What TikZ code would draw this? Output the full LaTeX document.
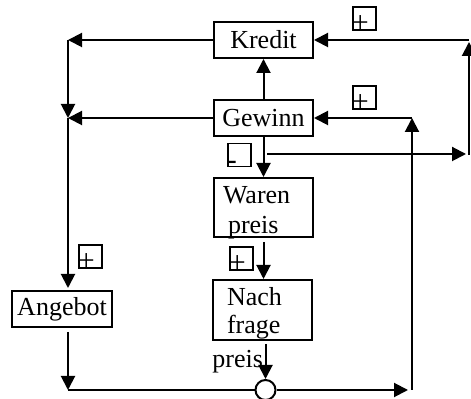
\documentclass[tikz,border=0pt]{standalone}
\usepackage{fontspec}
\setmainfont{Liberation Serif}
\usetikzlibrary{arrows.meta}
\begin{document}
\begin{tikzpicture}[x=0.5pt,y=-0.5pt,
    box/.style={draw,line width=1pt,inner sep=0pt,minimum width=49.5pt,minimum height=18pt,font=\fontsize{13}{15}\selectfont},
    tall/.style={box,align=left,inner ysep=0pt,text height=13pt},
    arr/.style={line width=1pt,-{Triangle[length=7pt,width=7pt]}},
    sgn/.style={draw,line width=0.6pt,minimum size=11.5pt,inner sep=0pt},
    sgntxt/.style={anchor=base west,inner sep=0pt,xshift=-0.5pt,yshift=-1.1pt,font=\fontsize{15}{15}\selectfont}]
    \useasboundingbox (0,0) rectangle (471,399);
    %% Boxes
    \node[box] (Kredit) at (263.5,40) {Kredit};
    \node[box] (Gewinn) at (263.5,118) {Gewinn};
    \node[tall,inner xsep=4.5pt,text width=40.5pt,text depth=16.5pt] (Waren) at (263.5,177) [anchor=north] {Waren\\\hspace{2.5pt}preis};
    \node[tall,inner xsep=7pt,text width=35.5pt,text depth=17pt,font=\fontsize{13}{14}\selectfont] (Nach) at (262.5,279) [anchor=north] {Nach\\frage};
    \node[anchor=base west,inner sep=0pt,font=\fontsize{13}{15}\selectfont] (preis) at (212,368) {preis};
    \node[box,minimum width=50pt] (Angebot) at (62,309) {Angebot};
    \node[draw,circle,line width=1pt,minimum size=10pt,inner sep=0pt] (circ) at (265.5,390) {};
    %% Corners
    \coordinate (kl) at (68,40);
    \coordinate (gl) at (68,118);
    \coordinate (bl) at (68,390);
    \coordinate (br) at (408,390);
    \coordinate (rb) at (412,390);
    \coordinate (rt) at (412,118);
    \coordinate (gb) at (267,154);
    \coordinate (re) at (466,154);
    \coordinate (rd) at (469,155);
    \coordinate (ru) at (469,42);
    \coordinate (kr) at (469,40);
    %% Arrows
    \draw[arr] (Kredit.west) -- (kl);
    \draw[arr] (kl) -- (gl);
    \draw[arr] (Gewinn.west) -- (gl);
    \draw[arr] (gl) -- (68,288);
    \draw[arr] (Angebot.south -| gl) ++(0,4) -- (bl);
    \draw[line width=1pt] (bl) -- (circ.west);
    \draw[arr] (circ.east) -- (br);
    \draw[arr] (rb) -- (rt);
    \draw[arr] (rt) -- (Gewinn.east);
    \draw[arr] (Gewinn.north) -- (Kredit.south);
    \draw[arr] (Gewinn.south) -- (Waren.north);
    \draw[arr] (gb) -- (re);
    \draw[arr] (rd) -- (ru);
    \draw[arr] (kr) -- (Kredit.east);
    \draw[arr] (Waren.south) ++(0,4) -- (Waren.south |- Nach.north);
    \draw[arr] (circ.north |- Nach.south) ++(0,3) -- (circ.north);
    %% Signs
    \node[sgn] (pk) at (364.5,18.5) {};
    \node[sgntxt] (pkt) at (pk.south west) {+};
    \node[sgn] (pg) at (364.5,97.5) {};
    \node[sgntxt] (pgt) at (pg.south west) {+};
    \node[sgn] (mw) at (239.5,155) {};
    \node[sgntxt] (mwt) at (mw.south west) {-};
    \node[sgn] (pn) at (241.5,258.5) {};
    \node[sgntxt] (pnt) at (pn.south west) {+};
    \node[sgn] (pa) at (90.5,256.5) {};
    \node[sgntxt] (pat) at (pa.south west) {+};
\end{tikzpicture}
\end{document}
